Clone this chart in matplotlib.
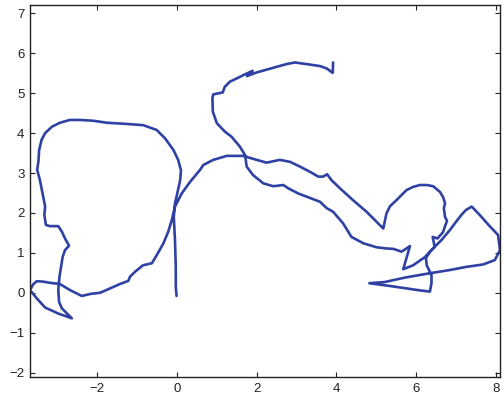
import matplotlib
matplotlib.use("Agg")
import matplotlib.pyplot as plt

# trajectory (data coordinates), traced in order
x = [-0.01, -0.03, -0.03, -0.05, -0.08, -0.05, -0.01, 0.08, 0.10, 0.03, -0.09, -0.30, -0.51, -0.85,
     -1.26, -1.76, -2.10, -2.43, -2.69, -2.94, -3.14, -3.31, -3.40, -3.46, -3.48, -3.51, -3.44,
     -3.36, -3.31, -3.33, -3.29, -3.19, -2.98, -2.89, -2.81, -2.71, -2.81, -2.87, -2.91, -2.95,
     -2.98, -2.96, -2.89, -2.64, -2.98, -3.31, -3.52, -3.69, -3.61, -3.52, -3.36, -3.19, -2.94,
     -2.69, -2.39, -2.18, -1.93, -1.68, -1.43, -1.22, -1.18, -1.05, -0.85, -0.63, -0.51, -0.34,
     -0.22, -0.13, -0.05, 0.12, 0.33, 0.58, 0.66, 0.91, 1.25, 1.66, 2.00, 2.25, 2.58, 2.84, 3.09,
     3.34, 3.55, 3.67, 3.77, 3.88, 4.09, 4.42, 4.76, 5.01, 5.18, 5.26, 5.35, 5.51, 5.76, 5.92,
     6.10, 6.27, 6.43, 6.60, 6.68, 6.73, 6.70, 6.73, 6.78, 6.73, 6.68, 6.54, 6.42, 6.47, 6.35,
     6.25, 6.27, 6.39, 6.39, 6.35, 6.10, 5.76, 5.35, 4.83, 5.22, 5.72, 6.35, 6.85, 7.27, 7.69,
     7.98, 8.11, 8.06, 7.85, 7.60, 7.40, 7.25, 7.14, 7.00, 6.85, 6.64, 6.39, 6.22, 5.93, 5.68,
     5.85, 5.64, 5.43, 5.26, 5.01, 4.68, 4.38, 4.17, 3.92, 3.76, 3.59, 3.04, 2.79, 2.67, 2.42,
     2.17, 1.91, 1.75, 1.71, 1.58, 1.37, 1.20, 1.00, 0.90, 0.89, 0.91, 1.15, 1.20, 1.33, 1.50,
     1.68, 1.90, 1.76, 2.00, 2.25, 2.50, 2.75, 2.96, 3.25, 3.59, 3.76, 3.91, 3.92]
y = [-0.08, 0.15, 0.65, 1.32, 1.90, 2.24, 2.41, 2.82, 3.07, 3.33, 3.58, 3.87, 4.08, 4.20,
     4.23, 4.26, 4.31, 4.33, 4.33, 4.26, 4.16, 4.00, 3.83, 3.58, 3.28, 3.08, 2.82,
     2.41, 2.16, 1.95, 1.70, 1.67, 1.67, 1.53, 1.36, 1.18, 1.07, 0.90, 0.65, 0.40,
     0.07, -0.23, -0.39, -0.64, -0.52, -0.37, -0.14, 0.07, 0.21, 0.29, 0.28, 0.25, 0.22,
     0.07, -0.08, -0.03, 0.00, 0.11, 0.22, 0.30, 0.40, 0.53, 0.69, 0.74, 0.94, 1.24,
     1.53, 1.82, 2.16, 2.49, 2.78, 3.08, 3.20, 3.33, 3.43, 3.43, 3.33, 3.26, 3.33, 3.28, 3.16,
     3.03, 2.91, 2.91, 2.97, 2.82, 2.62, 2.32, 2.03, 1.78, 1.61, 1.99, 2.17, 2.32, 2.57, 2.65,
     2.70, 2.70, 2.67, 2.53, 2.40, 2.24, 2.12, 1.90, 1.80, 1.67, 1.52, 1.36, 1.40, 1.15, 1.02,
     0.87, 0.69, 0.44, 0.24, 0.03, 0.06, 0.11, 0.17, 0.24, 0.27, 0.38, 0.49, 0.57, 0.65, 0.71,
     0.82, 1.07, 1.45, 1.67, 1.95, 2.16, 2.07, 1.95, 1.77, 1.57, 1.32, 1.07, 0.89, 0.69, 0.59,
     1.17, 1.03, 1.10, 1.11, 1.14, 1.24, 1.40, 1.74, 2.03, 2.12, 2.28, 2.49, 2.62, 2.70, 2.67,
     2.74, 2.95, 3.16, 3.45, 3.66, 3.91, 4.04, 4.25, 4.54, 4.87, 4.97, 5.02, 5.16, 5.29, 5.37,
     5.46, 5.56, 5.43, 5.52, 5.59, 5.66, 5.73, 5.77, 5.73, 5.68, 5.62, 5.51, 5.77]

x_ticks = [-2, 0, 2, 4, 6, 8]
y_ticks = [-2, -1, 0, 1, 2, 3, 4, 5, 6, 7]

plt.rcParams['font.family'] = ['Liberation Sans', 'DejaVu Sans']

fig = plt.figure(figsize=(5.04, 3.99), dpi=100)
ax = fig.add_axes([30/504, 22/399, 470/504, 372/399])
ax.plot(x, y, color='#2f42a3', linewidth=1.9, solid_joinstyle='round', solid_capstyle='round')
ax.set_xlim(-3.69, 8.11)
ax.set_ylim(-2.11, 7.21)
ax.set_xticks(x_ticks)
ax.set_yticks(y_ticks)
ax.tick_params(direction='in', top=True, right=True, length=3.5, width=0.8,
               labelsize=9.5, colors='#222222', pad=4)
for s in ax.spines.values():
    s.set_linewidth(1.0)
    s.set_color('#222222')
fig.savefig('out.png', dpi=100)
